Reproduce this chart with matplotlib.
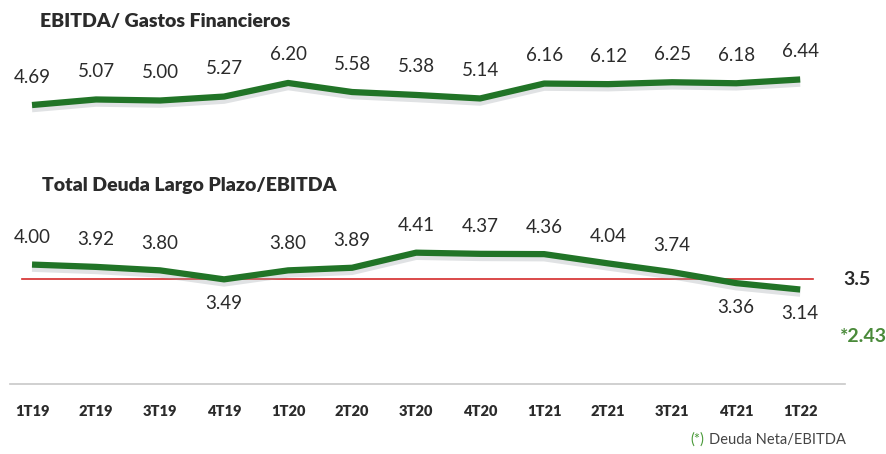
import matplotlib.pyplot as plt
import matplotlib.patheffects as pe
from matplotlib.lines import Line2D
from matplotlib.transforms import blended_transform_factory

plt.rcParams['font.family'] = ['Lato', 'DejaVu Sans']

quarters = ['1T19', '2T19', '3T19', '4T19', '1T20', '2T20', '3T20',
            '4T20', '1T21', '2T21', '3T21', '4T21', '1T22']
ebitda_gastos = [4.69, 5.07, 5.00, 5.27, 6.20, 5.58, 5.38,
                 5.14, 6.16, 6.12, 6.25, 6.18, 6.44]
deuda_ebitda = [4.00, 3.92, 3.80, 3.49, 3.80, 3.89, 4.41,
                4.37, 4.36, 4.04, 3.74, 3.36, 3.14]
limite = 3.5
deuda_neta = 2.43
below = [3, 11, 12]   # labels drawn under the line

green = '#217427'
text_c = '#2b2b2b'
x = list(range(len(quarters)))

fig = plt.figure(figsize=(8.86, 4.54), dpi=100)
ax1 = fig.add_axes([0, 0, 1, 1])
ax2 = fig.add_axes([0, 0, 1, 1])
for ax in (ax1, ax2):
    ax.set_xlim(-0.5, 13.34)
    ax.axis('off')
    ax.patch.set_alpha(0)
ax1.set_ylim(-19.2, 11.88)
ax2.set_ylim(-2.53, 13.12)

shadow = [pe.SimpleLineShadow(offset=(0, -3), shadow_color='#9aa0a6', alpha=0.3),
          pe.Normal()]

# top series
ax1.plot(x, ebitda_gastos, color=green, lw=4.5, solid_capstyle='butt', path_effects=shadow)
for xi, v in zip(x, ebitda_gastos):
    ax1.annotate(f'{v:.2f}', (xi, v), xytext=(0, 28), textcoords='offset pixels',
                 ha='center', va='center', fontsize=13.5, color=text_c)

# bottom series
ax2.plot([-0.15, 12.2], [limite, limite], color='#d42a2a', lw=1.2)
ax2.plot(x, deuda_ebitda, color=green, lw=4.5, solid_capstyle='butt', path_effects=shadow)
for i, (xi, v) in enumerate(zip(x, deuda_ebitda)):
    dy = -24 if i in below else 27
    ax2.annotate(f'{v:.2f}', (xi, v), xytext=(0, dy), textcoords='offset pixels',
                 ha='center', va='center', fontsize=13.5, color=text_c)
ax2.annotate(f'{limite}', (12.2, limite), xytext=(30, 0), textcoords='offset pixels',
             ha='left', va='center', fontsize=14, fontweight='bold', color=text_c)
ax2.annotate(f'*{deuda_neta}', (12.2, limite), xytext=(27, -57), textcoords='offset pixels',
             ha='left', va='center', fontsize=14, fontweight='bold', color='#4a8a3a')

# titles
fig.text(40 / 886, 1 - 22 / 454, 'EBITDA/ Gastos Financieros', fontsize=14,
         fontweight='heavy', color=text_c, va='center')
fig.text(42 / 886, 1 - 185 / 454, 'Total Deuda Largo Plazo/EBITDA', fontsize=14,
         fontweight='heavy', color=text_c, va='center')

# axis line and category labels
fig.add_artist(Line2D([10 / 886, 845 / 886], [1 - 384 / 454] * 2, color='#c8c8c8', lw=1.2))
tr = blended_transform_factory(ax2.transData, fig.transFigure)
for xi, q in zip(x, quarters):
    ax2.text(xi, 1 - 411 / 454, q, transform=tr, ha='center', va='center',
             fontsize=10.5, fontweight='heavy', color=text_c)

# footnote
fig.text(690 / 886, 1 - 440 / 454, '(*)', fontsize=10.5, color='#4a9a3a', va='center')
fig.text(709 / 886, 1 - 440 / 454, 'Deuda Neta/EBITDA', fontsize=10.5, color='#444444', va='center')

fig.savefig('out.png', dpi=100)
